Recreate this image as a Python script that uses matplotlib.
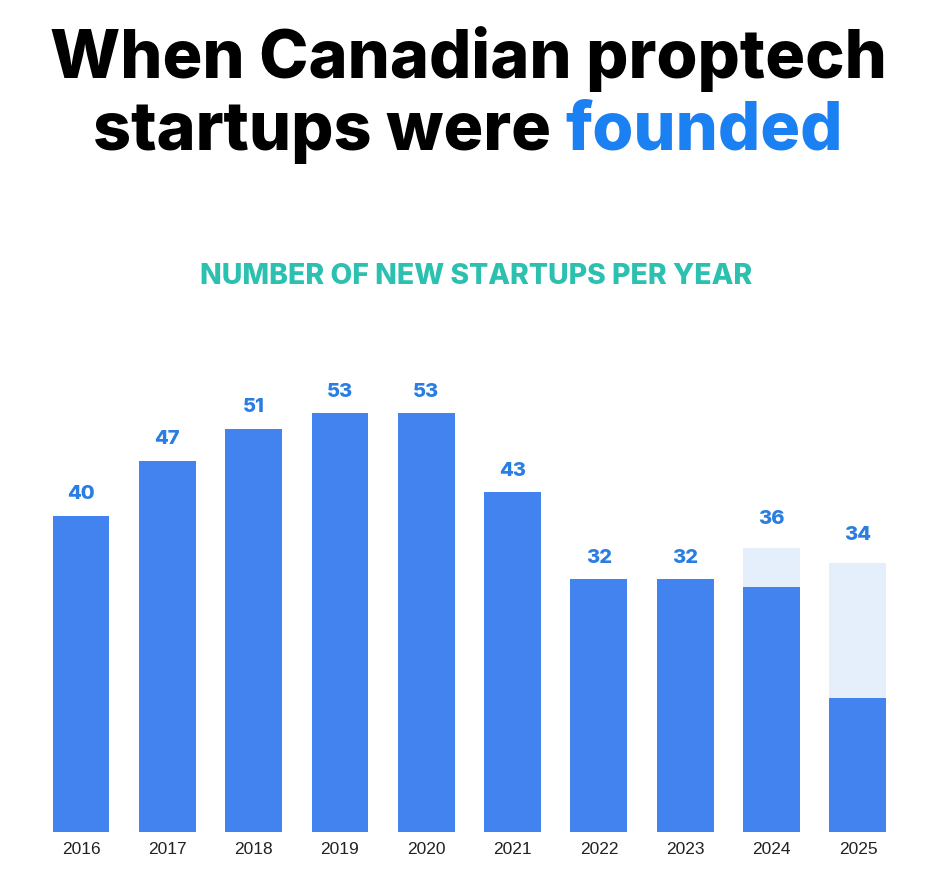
import matplotlib
matplotlib.use('Agg')
import matplotlib.pyplot as plt

years = ['2016', '2017', '2018', '2019', '2020', '2021', '2022', '2023', '2024', '2025']
founded = [40, 47, 51, 53, 53, 43, 32, 32, 31, 17]
# projected totals for the partial years (None = year complete)
projected = [None, None, None, None, None, None, None, None, 36, 34]

bar_blue = '#4283f0'
light_blue = '#e4effb'
label_blue = '#2a7de1'
title_blue = '#1b80f2'
teal = '#2cc0b0'

W, H = 936, 888
fig = plt.figure(figsize=(W / 100, H / 100), dpi=100)

# axes placed so that bar centres / baseline land where they do in the reference
x0, dx = 81, 86.33
base_y, top_y, ppu = 832, 350, 7.9
ax = fig.add_axes([0, 1 - base_y / H, 1, (base_y - top_y) / H])
ax.set_xlim(-x0 / dx, (W - x0) / dx)
ax.set_ylim(0, (base_y - top_y) / ppu)

xs = list(range(len(years)))
for i in xs:
    if projected[i] is not None:
        ax.bar(i, projected[i], width=0.66, color=light_blue, zorder=1)
ax.bar(xs, founded, width=0.66, color=bar_blue, zorder=2)

for i in xs:
    val = projected[i] if projected[i] is not None else founded[i]
    off = 17 if projected[i] is not None else 12
    ax.annotate(str(val), (i, val), xytext=(0, off), textcoords='offset points',
                ha='center', va='baseline', fontsize=14.5, fontweight='heavy',
                color=label_blue, family='Inter')

ax.set_xticks(xs)
ax.set_xticklabels(years, fontsize=12.5, family='Liberation Sans', color='#222222')
ax.tick_params(axis='x', length=0, pad=7)
ax.set_yticks([])
for s in ax.spines.values():
    s.set_visible(False)

# title
fig.text(0.5, 1 - 78 / H, 'When Canadian proptech', ha='center', va='baseline',
         fontsize=47.8, fontweight='heavy', family='Inter', color='black')
t1 = fig.text(0, 1 - 150 / H, 'startups were ', ha='left', va='baseline',
              fontsize=47.8, fontweight='heavy', family='Inter', color='black')
t2 = fig.text(0, 1 - 150 / H, 'founded', ha='left', va='baseline',
              fontsize=47.8, fontweight='heavy', family='Inter', color=title_blue)
fig.canvas.draw()
r = fig.canvas.get_renderer()
w1 = t1.get_window_extent(r).width
w2 = t2.get_window_extent(r).width
start = (W - w1 - w2) / 2
t1.set_x(start / W)
t2.set_x((start + w1) / W)

fig.text(476 / W, 1 - 277 / H, 'NUMBER OF NEW STARTUPS PER YEAR', ha='center', va='center',
         fontsize=20.4, fontweight='heavy', family='Inter', color=teal)

fig.savefig('out.png', dpi=100, facecolor='white')
